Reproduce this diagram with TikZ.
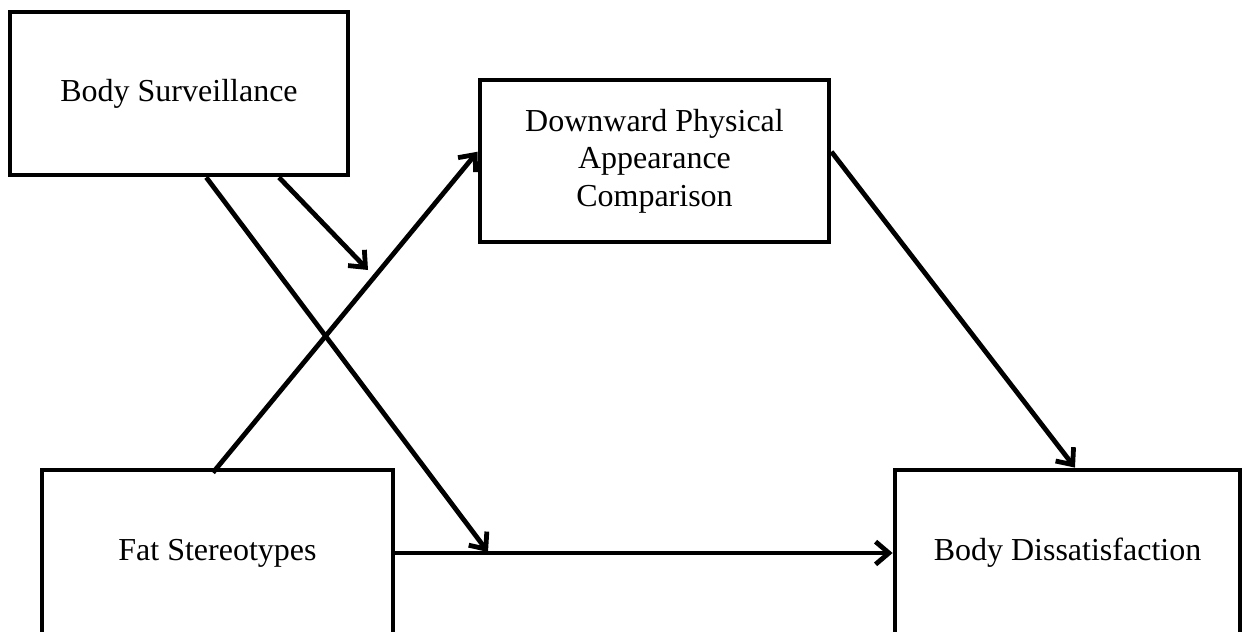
\documentclass[tikz,border=0pt]{standalone}
\usepackage{fontspec}
\setmainfont{Liberation Serif}
\usetikzlibrary{arrows.meta}
\tikzset{every picture/.style={line width=3.6pt}}
\tikzset{
	varbox/.style={draw, rectangle, align=center, inner sep=0pt,
		font=\fontsize{24}{28}\selectfont},
	path arrow/.style={-{Straight Barb[length=10pt,width=17pt]}}}

\begin{document}
\begin{tikzpicture}[x=0.75pt,y=0.75pt,yscale=-1,xscale=1]
	\useasboundingbox (0,0) rectangle (1244,631);
	\clip (0,0) rectangle (1244,631);

	%Shape: Rectangle
	\node [varbox, minimum width=253.5pt, minimum height=122.25pt] (surv) at (179,93.5) {Body Surveillance};
	%Shape: Rectangle
	\node [varbox, minimum width=261.75pt, minimum height=121.5pt] (comp) at (654.5,161) {Downward Physical\\Appearance\\Comparison};
	%Shape: Rectangle
	\node [varbox, minimum width=263.25pt, minimum height=124.5pt] (fat) at (217.5,553) {Fat Stereotypes};
	%Shape: Rectangle
	\node [varbox, minimum width=258.75pt, minimum height=124.5pt] (diss) at (1067.5,553) {Body Dissatisfaction};

	% ends on the paths
	\coordinate (m1) at (368,270);
	\coordinate (m2) at (488,552);

	%Straight Lines
	\draw [path arrow] ([xshift=-3.4pt,yshift=3.75pt]fat.north) -- (comp.177);
	%Straight Lines
	\draw [path arrow] (comp.3) -- (diss.85);
	%Straight Lines
	\draw [path arrow] (fat.east) -- (diss.west);
	%Straight Lines
	\draw [path arrow] (surv.-40) -- (m1);
	%Straight Lines
	\draw [path arrow] (surv.-72) -- (m2);

\end{tikzpicture}
\end{document}
